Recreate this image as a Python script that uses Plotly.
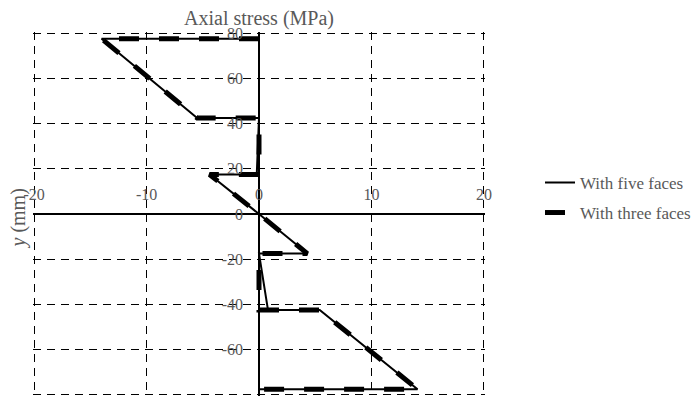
import plotly.graph_objects as go

# Data (Axial stress in MPa, y in mm)
five_x = [0, -14.0, -5.5, 0, -0.2, -4.4, 0, 4.3, 0, 0.8, 5.4, 14.1, 0]
five_y = [77.5, 77.5, 42.5, 42.5, 17.5, 17.5, 0, -17.5, -17.5, -42.5, -42.5, -77.5, -77.5]
three_x = [0, -14.0, -5.5, 0, 0, -4.4, 0, 4.3, 0, 0, 5.4, 14.1, 0]
three_y = [77.5, 77.5, 42.5, 42.5, 17.5, 17.5, 0, -17.5, -17.5, -42.5, -42.5, -77.5, -77.5]

x_ticks = [-20, -10, 0, 10, 20]
x_tick_text = ["-20", "-10", "0", "10", "20"]
y_ticks = [-80, -60, -40, -20, 0, 20, 40, 60, 80]
y_tick_text = ["-80", "-60", "-40", "-20", "0", "20", "40", "60", "80"]
# ranges padded a hair so the outer grid lines (the dashed frame) are drawn
x_range = [-20.1, 20.1]
y_range = [-80.5, 80.5]

FONT = "Times New Roman, Liberation Serif, serif"
GRAY = "#595959"

fig = go.Figure()
fig.add_trace(go.Scatter(
    x=five_x, y=five_y, mode="lines", name="With five faces", showlegend=True,
    line=dict(color="black", width=2), legend="legend"))
fig.add_trace(go.Scatter(
    x=three_x, y=three_y, mode="lines", name="With three faces", showlegend=True,
    line=dict(color="black", width=5, dash="20px,20px"), legend="legend2"))

grid = dict(showgrid=True, gridcolor="black", gridwidth=1.4, griddash="8px,6px",
            zeroline=True, zerolinecolor="black", zerolinewidth=1.6,
            showline=False, ticks="", showticklabels=False)

fig.update_layout(
    width=691, height=393,
    margin=dict(l=25, r=214, t=24, b=5, autoexpand=False),
    paper_bgcolor="white", plot_bgcolor="white",
    showlegend=True,
    font=dict(family=FONT, size=16, color=GRAY),
    xaxis=dict(range=x_range, tickvals=x_ticks, automargin=False, **grid),
    yaxis=dict(range=y_range, tickvals=y_ticks, automargin=False, **grid),
    # label-only axes crossing near the origin
    xaxis2=dict(
        range=x_range, tickvals=x_ticks, ticktext=x_tick_text,
        overlaying="x", anchor="free", position=0.586, side="bottom",
        showgrid=False, zeroline=False, showline=False, ticks="", automargin=False,
        tickfont=dict(size=16, color=GRAY, family=FONT),
    ),
    yaxis2=dict(
        range=y_range, tickvals=y_ticks, ticktext=y_tick_text,
        overlaying="y", anchor="free", position=0.5, side="left",
        showgrid=False, zeroline=False, showline=False, ticks="", automargin=False,
        ticklabelstandoff=16, tickfont=dict(size=16, color=GRAY, family=FONT),
    ),
    legend=dict(x=1.1217, y=0.5856, xanchor="left", yanchor="middle",
                bgcolor="rgba(0,0,0,0)", font=dict(size=17, color=GRAY, family=FONT)),
    legend2=dict(x=1.1217, y=0.5028, xanchor="left", yanchor="middle",
                 bgcolor="rgba(0,0,0,0)", font=dict(size=17, color=GRAY, family=FONT)),
    annotations=[
        dict(text="Axial stress (MPa)", xref="x", yref="paper", x=0, y=1.0,
             yanchor="bottom", showarrow=False, yshift=0,
             font=dict(size=20, color=GRAY, family=FONT)),
        dict(text="<i>y</i> (mm)", xref="paper", yref="y", x=-0.031, y=-2,
             textangle=-90, showarrow=False, xanchor="center", yanchor="middle",
             font=dict(size=20, color=GRAY, family=FONT)),
    ],
)

# invisible helper traces so the label axes are laid out
fig.add_trace(go.Scatter(x=x_range, y=[0, 0], xaxis="x2", yaxis="y", mode="lines",
                         line=dict(width=0), hoverinfo="skip", showlegend=False))
fig.add_trace(go.Scatter(x=[0, 0], y=y_range, xaxis="x", yaxis="y2", mode="lines",
                         line=dict(width=0), hoverinfo="skip", showlegend=False))

fig.write_html("out.html")
